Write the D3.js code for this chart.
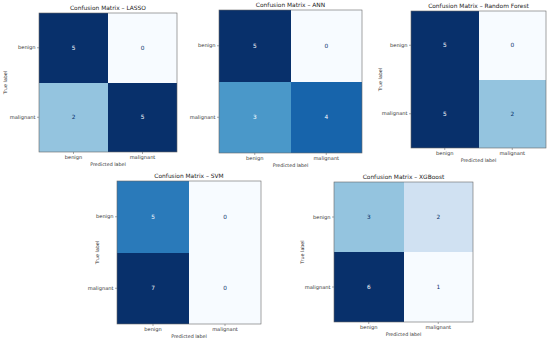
<!DOCTYPE html>
<html>
<head>
<meta charset="utf-8">
<script src="https://cdn.jsdelivr.net/npm/d3@7"></script>
<style>
  body { margin: 0; background: #fff; }
  svg text { font-family: "DejaVu Sans", sans-serif; }
</style>
</head>
<body>
<div id="output"></div>
<script>
const width = 550;
const height = 342;

// data
const modelNames = ['LASSO', 'ANN', 'Random Forest', 'SVM', 'XGBoost'];
const classLabels = ['benign', 'malignant'];
const lassoMatrix = [[5, 0], [2, 5]];
const annMatrix = [[5, 0], [3, 4]];
const forestMatrix = [[5, 0], [5, 2]];
const svmMatrix = [[5, 0], [7, 0]];
const xgbMatrix = [[3, 2], [6, 1]];
const matrices = [lassoMatrix, annMatrix, forestMatrix, svmMatrix, xgbMatrix];

// where each heatmap sits (left, top, right, bottom) and where "True label" goes
const panels = [
    {x0: 39, y0: 13, x1: 177, y1: 152, yLabel: 5},
    {x0: 219, y0: 10, x1: 362, y1: 153, yLabel: null},
    {x0: 411, y0: 11, x1: 546, y1: 148, yLabel: 380},
    {x0: 117, y0: 181, x1: 261, y1: 324, yLabel: 97},
    {x0: 334, y0: 182, x1: 473, y1: 322, yLabel: 302}
];

// matplotlib "Blues" = linear ramp through the 9 colorbrewer stops
const blues = d3.piecewise(d3.interpolateRgb, d3.schemeBlues[9]);

const svg = d3.select('#output').append('svg')
    .attr('width', width)
    .attr('height', height);

svg.append('rect')
    .attr('width', width)
    .attr('height', height)
    .attr('fill', '#fff');

function drawPanel(name, matrix, p) {
    const g = svg.append('g');
    const flat = matrix.flat();
    const vmin = d3.min(flat), vmax = d3.max(flat);
    const thresh = (vmin + vmax) / 2;
    const color = d3.scaleLinear().domain([vmin, vmax]).range([0, 1]);

    const x = d3.scaleBand().domain(classLabels).range([p.x0, p.x1]);
    const y = d3.scaleBand().domain(classLabels).range([p.y0, p.y1]);

    const cells = [];
    matrix.forEach((row, i) => row.forEach((v, j) => {
        cells.push({t: classLabels[i], pr: classLabels[j], v: v});
    }));

    g.selectAll('rect.cell')
        .data(cells)
        .enter().append('rect')
        .attr('class', 'cell')
        .attr('x', d => x(d.pr))
        .attr('y', d => y(d.t))
        .attr('width', x.bandwidth())
        .attr('height', y.bandwidth())
        .attr('shape-rendering', 'crispEdges')
        .attr('fill', d => blues(color(d.v)));

    g.selectAll('text.val')
        .data(cells)
        .enter().append('text')
        .attr('class', 'val')
        .attr('x', d => x(d.pr) + x.bandwidth() / 2)
        .attr('y', d => y(d.t) + y.bandwidth() / 2)
        .attr('text-anchor', 'middle')
        .attr('dominant-baseline', 'central')
        .attr('font-size', 5.8)
        .attr('fill', d => d.v > thresh ? blues(0) : blues(1))
        .text(d => d.v);

    // frame
    g.append('rect')
        .attr('x', p.x0).attr('y', p.y0)
        .attr('width', p.x1 - p.x0).attr('height', p.y1 - p.y0)
        .attr('fill', 'none')
        .attr('stroke', '#666')
        .attr('stroke-width', 0.6);

    // axes
    const xAxis = d3.axisBottom(x).tickSize(2).tickPadding(1.5);
    const yAxis = d3.axisLeft(y).tickSize(2).tickPadding(1.5);
    const gx = g.append('g').attr('transform', 'translate(0,' + p.y1 + ')').call(xAxis);
    const gy = g.append('g').attr('transform', 'translate(' + p.x0 + ',0)').call(yAxis);
    [gx, gy].forEach(a => {
        a.select('.domain').remove();
        a.selectAll('line').attr('stroke', '#555').attr('stroke-width', 0.5);
        a.selectAll('text').attr('font-size', 5.1).attr('fill', '#333')
            .style('font-family', '"DejaVu Sans", sans-serif');
    });

    g.append('text')
        .attr('x', (p.x0 + p.x1) / 2)
        .attr('y', p.y0 - 3.5)
        .attr('text-anchor', 'middle')
        .attr('font-size', 5.9)
        .attr('fill', '#222')
        .text('Confusion Matrix \u2013 ' + name);

    g.append('text')
        .attr('x', (p.x0 + p.x1) / 2)
        .attr('y', p.y1 + 14)
        .attr('text-anchor', 'middle')
        .attr('font-size', 4.8)
        .attr('fill', '#333')
        .text('Predicted label');

    if (p.yLabel !== null) {
        g.append('text')
            .attr('transform', 'translate(' + p.yLabel + ',' + ((p.y0 + p.y1) / 2) + ') rotate(-90)')
            .attr('text-anchor', 'middle')
            .attr('dominant-baseline', 'central')
            .attr('font-size', 4.8)
            .attr('fill', '#333')
            .text('True label');
    }
}

modelNames.forEach((name, i) => drawPanel(name, matrices[i], panels[i]));
</script>
</body>
</html>
